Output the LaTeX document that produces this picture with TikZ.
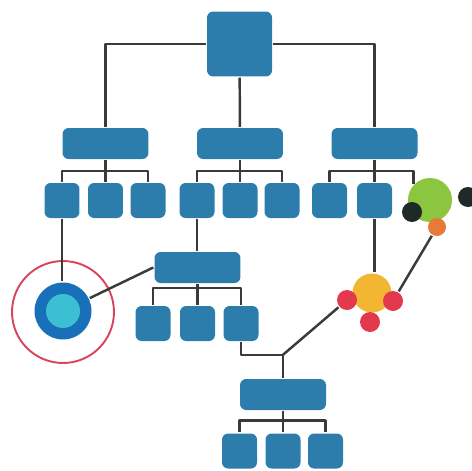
\documentclass[tikz,border=0pt]{standalone}
\usetikzlibrary{calc}
\definecolor{boxblue}{HTML}{2C7DAC}
\definecolor{linegray}{HTML}{3A3A3A}
\definecolor{ringred}{HTML}{D8465C}
\definecolor{dotblue}{HTML}{1870B8}
\definecolor{dotcyan}{HTML}{3CBFD2}
\definecolor{dotgreen}{HTML}{8CC641}
\definecolor{dotorange}{HTML}{E67A36}
\definecolor{dotyellow}{HTML}{F2B632}
\definecolor{dotred}{HTML}{E23A4C}
\definecolor{dotdark}{HTML}{1F2928}
\begin{document}
\begin{tikzpicture}[x=0.02cm,y=-0.02cm,line width=1.4pt,line join=round,
  box/.style={fill=boxblue,rounded corners=3.5pt,inner sep=0pt},
  head/.style={box,minimum width=1.72cm,minimum height=0.62cm},
  leaf/.style={box,minimum width=0.7cm,minimum height=0.7cm},
  dot/.style={circle,inner sep=0pt,minimum size=#1}]
\useasboundingbox (0,0) rectangle (472,470);
% boxes
\node[box,minimum size=1.3cm] (top) at (239.5,44) {};
\node[head] (a) at (105.5,143.5) {};
\node[head] (b) at (240,143.5) {};
\node[head] (c) at (374.5,143.5) {};
\foreach \n/\x in {a1/62,a2/105.5,a3/148,b1/197,b2/240,b3/282,c1/329.5,c2/374.5}
  \node[leaf] (\n) at (\x,200.5) {};
\node[head] (d) at (197.5,267.5) {};
\foreach \n/\x in {d1/153,d2/197.5,d3/241}
  \node[leaf] (\n) at (\x,323.5) {};
\node[head] (e) at (283,394.5) {};
\foreach \n/\x in {e1/239.5,e2/283,e3/325.5}
  \node[leaf] (\n) at (\x,451) {};
% dots
\node[dot=2.04cm,draw=ringred,line width=1.1pt] (ring) at (63,312) {};
\node[dot=1.14cm,fill=dotblue] (blue) at (63,311) {};
\node[dot=0.68cm,fill=dotcyan] (cyan) at (63,311) {};
\node[dot=0.88cm,fill=dotgreen] (green) at (430,200) {};
\node[dot=0.4cm,fill=dotdark] (dark) at (412,212) {};
\node[dot=0.4cm,fill=dotdark] (darkr) at (468,197) {};
\node[dot=0.36cm,fill=dotorange] (orange) at (437,227) {};
\node[dot=0.78cm,fill=dotyellow] (yellow) at (372,293) {};
\node[dot=0.4cm,fill=dotred] (redl) at (347,300) {};
\node[dot=0.4cm,fill=dotred] (redr) at (393,301) {};
\node[dot=0.4cm,fill=dotred] (redb) at (370,322) {};
\coordinate (j) at ($(e.north)+(0,-23)$);
% lines
\begin{scope}[draw=linegray]
\draw (top.west) -| (a.north);
\draw (top.east) -| (c.north);
\draw (top) -- (b);
\draw (a.south) -- (a2.north);
\draw (a1.north) -- ++(0,-11) -| (a3.north);
\draw (b.south) -- (b2.north);
\draw (b1.north) -- ++(0,-11) -| (b3.north);
\draw (c.south) -- (c2.north);
\draw (c1.north) -- ++(0,-11) -| (green.north west);
\draw (a1.south) -- (a1.south |- blue.north);
\draw (blue) -- (d.west);
\draw (b1.south) -- (b1.south |- d.north);
\draw (d.south) -- (d2.north);
\draw (d1.north) -- ++(0,-17) -| (d3.north);
\draw (d3.south) |- (j) -- (e.north);
\draw (j) -- (redl);
\draw (e.south) -- (e2.north);
\draw (e1.north) -- ++(0,-12) -| (e3.north);
\draw (c2.south) -- (c2.south |- yellow.north);
\draw (orange) -- (redr);
\end{scope}
\end{tikzpicture}
\end{document}
